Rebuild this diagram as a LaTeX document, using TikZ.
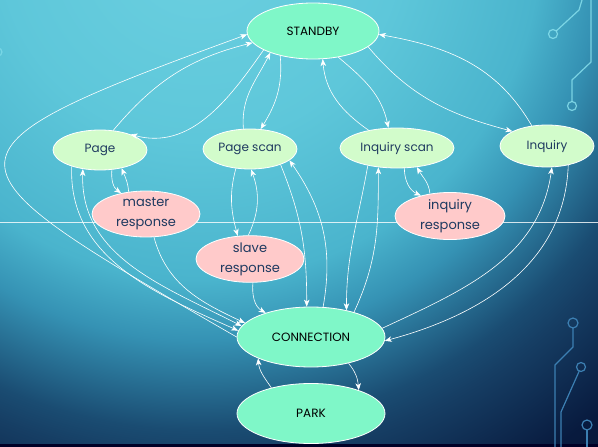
\documentclass[tikz,border=0pt]{standalone}
\usepackage{fontspec}
\setmainfont{Poppins}
\usetikzlibrary{shapes.geometric,arrows.meta}
\definecolor{bg0}{HTML}{6CD0E0}
\definecolor{bg1}{HTML}{5EC7DA}
\definecolor{bg2}{HTML}{4AB4CD}
\definecolor{bg3}{HTML}{3592B4}
\definecolor{bg4}{HTML}{1A4C72}
\definecolor{bg5}{HTML}{163E64}
\definecolor{bg6}{HTML}{081A3E}
\definecolor{bg7}{HTML}{061434}
\definecolor{mint}{HTML}{7FF7C8}
\definecolor{lgreen}{HTML}{D2FCCB}
\definecolor{pinkr}{HTML}{FFCACA}
\definecolor{navytxt}{HTML}{1F3A60}
\definecolor{circA}{HTML}{8BE3EF}
\definecolor{circB}{HTML}{3C7FB2}
\pgfdeclareradialshading{bgshade}{\pgfpoint{0bp}{0bp}}{color(0bp)=(bg0); color(7.14bp)=(bg1); color(12.14bp)=(bg2); color(14.3bp)=(bg3); color(17.5bp)=(bg4); color(18.6bp)=(bg5); color(22.1bp)=(bg6); color(25bp)=(bg7); color(50bp)=(bg7)}
\tikzset{
  >={Stealth[length=7pt,width=5.5pt,inset=2pt]},
  bigstate/.style={ellipse, draw=white, line width=0.8pt, fill=mint, inner sep=0pt, text=black, font=\fontsize{12}{14}\selectfont},
  substate/.style={ellipse, draw=white, line width=0.8pt, fill=lgreen, inner sep=0pt, text=navytxt, font=\fontsize{12}{14}\selectfont},
  respstate/.style={ellipse, draw=white, line width=0.8pt, fill=pinkr, inner sep=0pt, text=navytxt, align=center, font=\fontsize{13}{20}\selectfont},
  link/.style={->, draw=white, line width=0.6pt},
  circuit/.style={line width=1.2pt}
}
\begin{document}
\begin{tikzpicture}[x=1pt,y=1pt]
\useasboundingbox (0,0) rectangle (598,-447);
% background
\begin{scope}
\clip (0,0) rectangle (598,-447);
\shade[shading=bgshade] (200,60) circle (700pt);
\fill[black!85!blue] (0,-444) rectangle (598,-448);
\draw[circA, circuit, opacity=0.6] (-2,-52) circle (4pt);
\end{scope}
% horizontal line
\draw[white, opacity=0.8, line width=0.6pt] (0,-222) -- (598,-222);
% circuit decorations top right
\draw[circA, circuit, opacity=0.8] (582,0) -- (579,-10) -- (556.3,-30.9);
\draw[circA, circuit, opacity=0.8] (553,-34) circle (4.5pt);
\draw[circA, circuit, opacity=0.8] (591,0) -- (591,-62) -- (572,-80) -- (572,-101.5);
\draw[circA, circuit, opacity=0.8] (572,-106) circle (4.5pt);
% circuit decorations bottom right
\draw[circB, circuit] (573,-323) circle (5pt);
\draw[circB, circuit] (573,-328) -- (573,-347) -- (555,-365) -- (555,-447);
\draw[circB, circuit] (581,-367) circle (4.5pt);
\draw[circB, circuit] (579.2,-371.1) -- (561,-412) -- (561,-447);
\draw[circB, circuit] (587,-425) circle (5pt);
\draw[circB, circuit] (587,-430) -- (587,-447);
% nodes
\node[bigstate, minimum width=132pt, minimum height=56pt] (SB) at (313,-31) {STANDBY};
\node[substate, minimum width=94pt, minimum height=40pt] (PG) at (100,-150) {Page};
\node[substate, minimum width=94pt, minimum height=40pt] (PS) at (250,-149) {Page scan};
\node[substate, minimum width=114pt, minimum height=40pt] (IS) at (397,-148) {Inquiry scan};
\node[substate, minimum width=94pt, minimum height=42pt] (IQ) at (547,-146) {Inquiry};
\node[respstate, minimum width=108pt, minimum height=46pt] (MR) at (146,-214) {master\\response};
\node[respstate, minimum width=108pt, minimum height=46pt] (SR) at (250,-259) {slave\\response};
\node[respstate, minimum width=110pt, minimum height=46pt] (IR) at (450,-216) {inquiry\\response};
\node[bigstate, minimum width=148pt, minimum height=60pt] (CN) at (311,-337) {CONNECTION};
\node[bigstate, minimum width=148pt, minimum height=60pt] (PK) at (311,-413.5) {PARK};
% connectors around STANDBY
\draw[link] (SB.201) to[out=235,in=-15] (PG.27);
\draw[link] (PG.56) to[out=50,in=194] (SB.191);
\draw[link] (CN.180) to[out=150,in=200,looseness=2.95] (SB.183);
\draw[link] (PS.108) to[out=95,in=243] (SB.207);
\draw[link] (SB.217) to[out=-85,in=58] (PS.62);
\draw[link] (SB.-46) to[out=-40,in=102] (IS.113);
\draw[link] (IS.148) to[out=145,in=-85] (SB.-71);
\draw[link] (SB.-16) to[out=-50,in=165] (IQ.157);
\draw[link] (IQ.127) to[out=120,in=-10] (SB.-3);
% response loops
\draw[link] (PG.-59) to[out=-95,in=145] (MR.140);
\draw[link] (MR.128) to[out=95,in=-68] (PG.-40);
\draw[link] (PS.234) to[out=-105,in=105] (SR.118);
\draw[link] (SR.94) to[out=65,in=-70] (PS.-87);
\draw[link] (IS.-70) to[out=-90,in=155] (IR.145);
\draw[link] (IR.132) to[out=95,in=-60] (IS.-44);
% to and from CONNECTION
\draw[link] (MR.-71) to[out=-75,in=155] (CN.168);
\draw[link,<->] (PG.228) to[out=-92,in=153] (CN.171);
\draw[link] (PG.210) to[out=-92,in=156] (CN.175);
\draw[link] (SR.-83) to[out=-95,in=150] (CN.152);
\draw[link] (PS.-27) to[out=-68,in=90] (CN.98);
\draw[link] (CN.68) to[out=80,in=-55] (PS.-16);
\draw[link] (IS.211) to[out=-100,in=90] (CN.37);
\draw[link] (CN.30) to[out=65,in=-90] (IS.226);
\draw[link] (CN.7) to[out=25,in=-98] (IQ.-77);
\draw[link] (IQ.-42) to[out=-92,in=15] (CN.-3);
\draw[link] (CN.-35) to[out=-50,in=95] (PK.26);
\draw[link] (PK.147) to[out=125,in=-85] (CN.202);
\end{tikzpicture}
\end{document}
